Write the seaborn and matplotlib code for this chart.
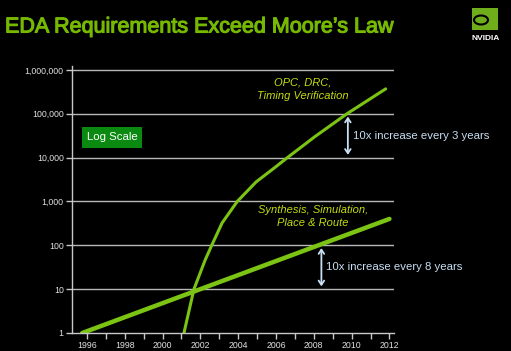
import matplotlib
matplotlib.use('Agg')
import pandas as pd
import matplotlib.pyplot as plt
import matplotlib.patheffects as pe
import seaborn as sns
from matplotlib.patches import FancyArrowPatch, Rectangle, Ellipse

# data
years_eda = [1995.75, 2012.0]
values_eda = [1, 400]
years_opc = [2001.13, 2001.66, 2002.25, 2002.6, 2003.15, 2003.95, 2004.95, 2005.95, 2006.6, 2008.05, 2009.75, 2011.8]
values_opc = [1, 10, 46, 100, 325, 1000, 2800, 6000, 10000, 30000, 100000, 370000]
year_ticks = list(range(1996, 2013))
year_labels = [str(y) if y % 2 == 0 else '' for y in year_ticks]
y_ticks = [1, 10, 100, 1000, 10000, 100000, 1000000]
y_labels = ['1', '10', '100', '1,000', '10,000', '100,000', '1,000,000']

df_eda = pd.DataFrame({'year': years_eda, 'value': values_eda})
df_opc = pd.DataFrame({'year': years_opc, 'value': values_opc})

sns.set_style('dark', {'axes.facecolor': 'black', 'figure.facecolor': 'black'})
plt.rcParams['font.family'] = ['Liberation Sans', 'DejaVu Sans']

green = '#76b900'
label_green = '#c4dc10'
blue = '#c8def2'

fig = plt.figure(figsize=(5.11, 3.51), dpi=100)
fig.patch.set_facecolor('black')
ax = fig.add_axes([72 / 511, 1 - 333 / 351, (394 - 72) / 511, (333 - 66) / 351])
ax.set_facecolor('none')

sns.lineplot(data=df_eda, x='year', y='value', ax=ax, color='#7cc414', linewidth=3.2)
sns.lineplot(data=df_opc, x='year', y='value', ax=ax, color='#7cc414', linewidth=2.2)

ax.set_yscale('log')
ax.set_ylim(1, 10 ** 6.09)
ax.set_xlim(1995.21, 2012.24)
ax.set_yticks(y_ticks)
ax.set_yticklabels(y_labels)
ax.minorticks_off()
ax.set_xticks(year_ticks)
ax.set_xticklabels(year_labels)
ax.set_xlabel('')
ax.set_ylabel('')
ax.grid(False)
for v in y_ticks[1:]:
    ax.axhline(v, color='#b8b8b8', linewidth=1, zorder=0)

for side in ['top', 'right']:
    ax.spines[side].set_visible(False)
for side in ['left', 'bottom']:
    ax.spines[side].set_visible(True)
    ax.spines[side].set_color('#c8c8c8')
    ax.spines[side].set_linewidth(1)
ax.tick_params(axis='both', colors='#c8c8c8', labelcolor='#e0e0e0', labelsize=6.3,
               direction='out', length=4, width=1, pad=2, left=True, bottom=True)

# curve labels
ax.text(2007.4, 10 ** 5.55, 'OPC, DRC,\nTiming Verification', color=label_green,
        fontsize=8, style='italic', ha='center', va='center', linespacing=1.45)
ax.text(2007.95, 10 ** 2.66, 'Synthesis, Simulation,\nPlace & Route', color=label_green,
        fontsize=8, style='italic', ha='center', va='center', linespacing=1.45)

# growth-rate arrows
for x, lo, txt in [(2009.8, 10000, '10x increase every 3 years'),
                   (2008.4, 10, '10x increase every 8 years')]:
    ax.add_patch(FancyArrowPatch((x, lo), (x, lo * 10), arrowstyle='<->,head_length=3,head_width=2',
                                 color=blue, linewidth=1.3, zorder=4))
    ax.text(x + 0.25, lo * 10 ** 0.5, txt, color=blue, fontsize=8.2, ha='left', va='center')

# log scale badge
fig.patches.append(Rectangle((82 / 511, 1 - 148 / 351), 60 / 511, 21 / 351,
                             transform=fig.transFigure, facecolor='#0b8a12', edgecolor='none'))
fig.text(112 / 511, 1 - 137.5 / 351, 'Log Scale', color='white', fontsize=8.2,
         ha='center', va='center')

# title
fig.text(5 / 511, 1 - 27 / 351, 'EDA Requirements Exceed Moore\u2019s Law', color=green,
         fontsize=15.5, ha='left', va='center',
         path_effects=[pe.withStroke(linewidth=0.8, foreground=green)])

# logo
fig.patches.append(Rectangle((472 / 511, 1 - 30 / 351), 26 / 511, 22 / 351,
                             transform=fig.transFigure, facecolor='#6fae1a', edgecolor='none'))
fig.patches.append(Ellipse((481 / 511, 1 - 20 / 351), 14 / 511, 9 / 351, transform=fig.transFigure,
                           facecolor='none', edgecolor='black', linewidth=1.5))
fig.text(486 / 511, 1 - 38 / 351, 'NVIDIA', color='white', fontsize=6, fontweight='bold',
         ha='center', va='center')

fig.savefig('out.png', dpi=100, facecolor='black')
